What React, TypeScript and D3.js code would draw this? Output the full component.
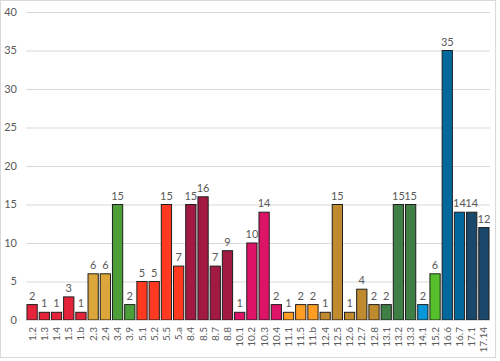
import React from "react";
import * as d3 from "d3";

const categories = [
  "1.2", "1.3", "1.4", "1.5", "1.b", "2.3", "2.4", "3.4", "3.9", "5.1", "5.2", "5.5", "5.a",
  "8.4", "8.5", "8.7", "8.8", "10.1", "10.2", "10.3", "10.4", "11.1", "11.5", "11.b",
  "12.4", "12.5", "12.6", "12.7", "12.8", "13.1", "13.2", "13.3", "14.1", "15.2",
  "16.6", "16.7", "17.1", "17.14",
];
const values = [
  2, 1, 1, 3, 1, 6, 6, 15, 2, 5, 5, 15, 7,
  15, 16, 7, 9, 1, 10, 14, 2, 1, 2, 2,
  1, 15, 1, 4, 2, 2, 15, 15, 2, 6,
  35, 14, 14, 12,
];
const yTicks = [0, 5, 10, 15, 20, 25, 30, 35, 40];

const goalColors: Record<string, string> = {
  "1": "#E5243B",
  "2": "#DDA63A",
  "3": "#4C9F38",
  "5": "#FF3A21",
  "8": "#A21942",
  "10": "#DD1367",
  "11": "#FD9D24",
  "12": "#BF8B2E",
  "13": "#3F7E44",
  "14": "#0A97D9",
  "15": "#56C02B",
  "16": "#00689D",
  "17": "#19486A",
};

const W = 500;
const H = 361;
const FONT = "Lato, 'Open Sans', sans-serif";
const TEXT = "#595959";

export default function App() {
  const x = d3
    .scaleBand<string>()
    .domain(categories)
    .range([26, 490])
    .paddingInner(0.16)
    .paddingOuter(0.08);
  const y = d3.scaleLinear().domain([0, 40]).range([320, 12]);

  return (
    <svg
      width={W}
      height={H}
      style={{ position: "absolute", left: 0, top: 0, background: "#fff" }}
    >
      <rect x={0.5} y={0.5} width={495} height={357} fill="#fff" stroke="#d9d9d9" />
      {yTicks.map((t) => (
        <g key={t}>
          {t > 0 && (
            <line x1={26} x2={490} y1={y(t) + 0.5} y2={y(t) + 0.5} stroke="#d9d9d9" strokeWidth={1} />
          )}
          <text
            x={17}
            y={y(t)}
            dy="0.35em"
            textAnchor="end"
            fontFamily={FONT}
            fontSize={11}
            fill={TEXT}
          >
            {t}
          </text>
        </g>
      ))}
      {categories.map((c, i) => {
        const v = values[i];
        const goal = c.split(".")[0];
        const bx = x(c)!;
        const bw = x.bandwidth();
        return (
          <g key={c}>
            <rect
              x={bx}
              y={y(v)}
              width={bw}
              height={y(0) - y(v)}
              fill={goalColors[goal]}
              stroke="#1e1e1e"
              strokeWidth={1}
            />
            <text
              x={bx + bw / 2}
              y={y(v) - 5}
              textAnchor="middle"
              fontFamily={FONT}
              fontSize={11}
              fill={TEXT}
            >
              {v}
            </text>
            <text
              transform={`translate(${bx + bw / 2},${327}) rotate(-90)`}
              dy="0.35em"
              textAnchor="end"
              fontFamily={FONT}
              fontSize={10}
              fill={TEXT}
            >
              {c}
            </text>
          </g>
        );
      })}
      <line x1={26} x2={490} y1={320.5} y2={320.5} stroke="#d9d9d9" />
    </svg>
  );
}
